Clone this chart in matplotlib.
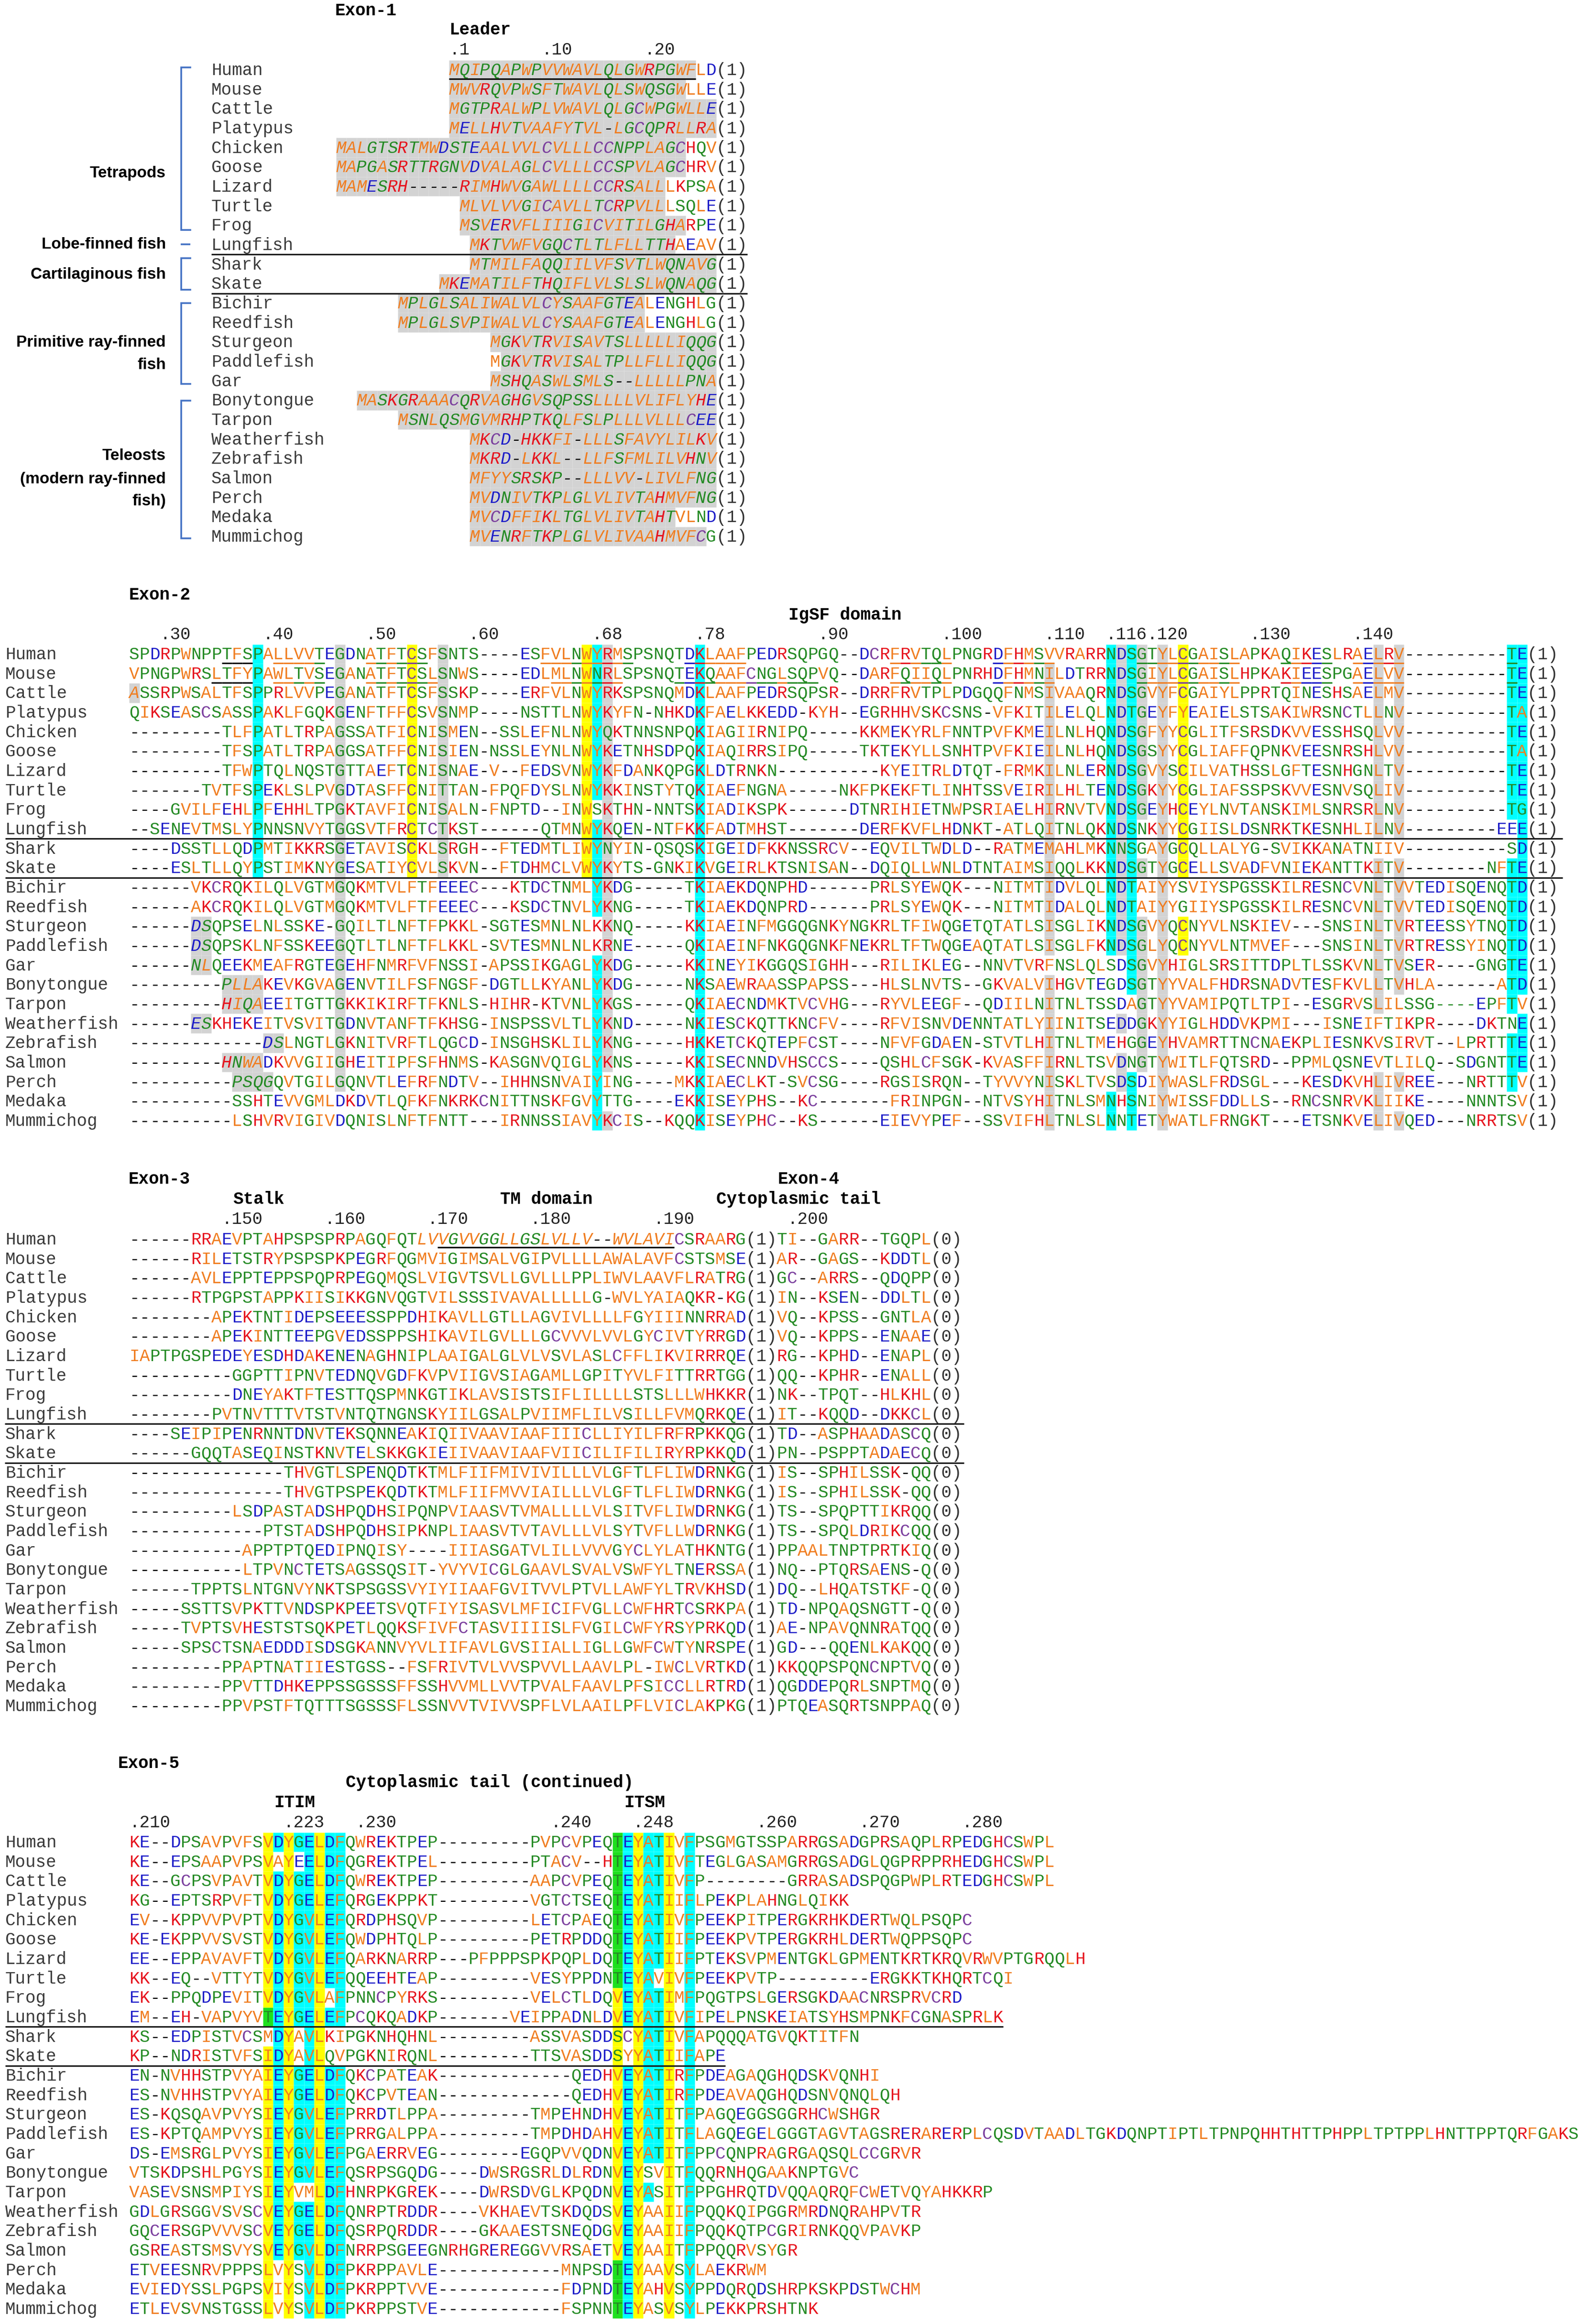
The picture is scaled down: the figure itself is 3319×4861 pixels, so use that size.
import matplotlib
matplotlib.use('Agg')
import matplotlib.pyplot as plt
from matplotlib.patches import Rectangle
from matplotlib.collections import PatchCollection

W, H = 3319, 4861
CW = 21.5          # width of one alignment column (px)
RH = 40.67         # row height (px)
FS = 25.8          # sequence font size (pt)
BASE = 11          # baseline offset from row centre
MONO = ['Liberation Mono', 'DejaVu Sans Mono']
NARROW = ['Liberation Sans Narrow', 'Liberation Sans', 'DejaVu Sans']

species = ['Human', 'Mouse', 'Cattle', 'Platypus', 'Chicken', 'Goose', 'Lizard',
           'Turtle', 'Frog', 'Lungfish', 'Shark', 'Skate', 'Bichir', 'Reedfish',
           'Sturgeon', 'Paddlefish', 'Gar', 'Bonytongue', 'Tarpon', 'Weatherfish',
           'Zebrafish', 'Salmon', 'Perch', 'Medaka', 'Mummichog']

# ---- Exon-1 (leader), right aligned
exon1 = ["MQIPQAPWPVVWAVLQLGWRPGWFLD", "MWVRQVPWSFTWAVLQLSWQSGWLLE",
         "MGTPRALWPLVWAVLQLGCWPGWLLE", "MELLHVTVAAFYTVL-LGCQPRLLRA",
         "MALGTSRTMWDSTEAALVVLCVLLLCCNPPLAGCHQV", "MAPGASRTTRGNVDVALAGLCVLLLCCSPVLAGCHRV",
         "MAMESRH-----RIMHWVGAWLLLLCCRSALLLKPSA", "MLVLVVGICAVLLTCRPVLLLSQLE",
         "MSVERVFLIIIGICVITILGHARPE", "MKTVWFVGQCTLTLFLLTTHAEAV",
         "MTMILFAQQIILVFSVTLWQNAVG", "MKEMATILFTHQIFLVLSLSLWQNAQG",
         "MPLGLSALIWALVLCYSAAFGTEALENGHLG", "MPLGLSVPIWALVLCYSAAFGTEALENGHLG",
         "MGKVTRVISAVTSLLLLLIQQG", "MGKVTRVISALTPLLFLLIQQG", "MSHQASWLSMLS--LLLLLPNA",
         "MASKGRAAACQRVAGHGVSQPSSLLLLVLIFLYHE", "MSNLQSMGVMRHPTKQLFSLPLLLVLLLCEE",
         "MKCD-HKKFI-LLLSFAVYLILKV", "MKRD-LKKL--LLFSFMLILVHNV", "MFYYSRSKP--LLLVV-LIVLFNG",
         "MVDNIVTKPLGLVLIVTAHMVFNG", "MVCDFFIKLTGLVLIVTAHTVLND", "MVENRFTKPLGLVLIVAAHMVFCG"]
exon1_plain_tail = [2, 3, 0, 0, 3, 3, 5, 5, 3, 4, 0, 0, 7, 7, 0, 0, 0, 0, 0, 0, 0, 0, 0, 4, 1]
exon1_ruler = [('.1', 11), ('.10', 20), ('.20', 30)]

# ---- Exon-2 (IgSF domain)
exon2 = [
    "SPDRPWNPPTFSPALLVVTEGDNATFTCSFSNTS----ESFVLNWYRMSPSNQTDKLAAFPEDRSQPGQ--DCRFRVTQLPNGRDFHMSVVRARRNDSGTYLCGAISLAPKAQIKESLRAELRV----------TE",
    "VPNGPWRSLTFYPAWLTVSEGANATFTCSLSNWS----EDLMLNWNRLSPSNQTEKQAAFCNGLSQPVQ--DARFQIIQLPNRHDFHMNILDTRRNDSGIYLCGAISLHPKAKIEESPGAELVV----------TE",
    "ASSRPWSALTFSPPRLVVPEGANATFTCSFSSKP----ERFVLNWYRKSPSNQMDKLAAFPEDRSQPSR--DRRFRVTPLPDGQQFNMSIVAAQRNDSGVYFCGAIYLPPRTQINESHSAELMV----------TE",
    "QIKSEASCSASSPAKLFGQKGENFTFFCSVSNMP----NSTTLNWYKYFN-NHKDKFAELKKEDD-KYH--EGRHHVSKCSNS-VFKITILELQLNDTGEYFYEAIELSTSAKIWRSNCTLLNV----------TA",
    "---------TLFPATLTRPAGSSATFICNISMEN--SSLEFNLNWYQKTNNSNPQKIAGIIRNIPQ-----KKMEKYRLFNNTPVFKMEILNLHQNDSGFYYCGLITFSRSDKVVESSHSQLVV----------TE",
    "---------TFSPATLTRPAGGSATFFCNISIEN-NSSLEYNLNWYKETNHSDPQKIAQIRRSIPQ-----TKTEKYLLSNHTPVFKIEILNLHQNDSGSYYCGLIAFFQPNKVEESNRSHLVV----------TA",
    "---------TFWPTQLNQSTGTTAEFTCNISNAE-V--FEDSVNWYKFDANKQPGKLDTRNKN----------KYEITRLDTQT-FRMKILNLERNDSGVYSCILVATHSSLGFTESNHGNLTV----------TE",
    "-------TVTFSPEKLSLPVGDTASFFCNITTAN-FPQFDYSLNWYKKINSTYTQKIAEFNGNA-----NKFPKEKFTLINHTSSVEIRILHLTENDSGKYYCGLIAFSSPSKVVESNVSQLIV----------TE",
    "----GVILFEHLPFEHHLTPGKTAVFICNISALN-FNPTD--INWSKTHN-NNTSKIADIKSPK------DTNRIHIETNWPSRIAELHIRNVTVNDSGEYHCEYLNVTANSKIMLSNRSRLNV----------TG",
    "--SENEVTMSLYPNNSNVYTGGSVTFRCTCTKST------QTMNWYKQEN-NTFKKFADTMHST-------DERFKVFLHDNKT-ATLQITNLQKNDSNKYYCGIISLDSNRKTKESNHLILNV---------EEE",
    "----DSSTLLQDPMTIKKRSGETAVISCKLSRGH--FTEDMTLIWYNYIN-QSQSKIGEIDFKKNSSRCV--EQVILTWDLD--RATMEMAHLMKNNSGAYGCQLLALYG-SVIKKANATNIIV----------SD",
    "----ESLTLLQYPSTIMKNYGESATIYCVLSKVN--FTDHMCLVWYKYTS-GNKIKVGEIRLKTSNISAN--DQIQLLWNLDTNTAIMSIQQLKKNDSGTYGCELLSVADFVNIEKANTTKITV--------NFTE",
    "------VKCRQKILQLVGTMGQKMTVLFTFEEEC---KTDCTNMLYKDG-----TKIAEKDQNPHD------PRLSYEWQK---NITMTIDVLQLNDTAIYYSVIYSPGSSKILRESNCVNLTVVTEDISQENQTD",
    "------AKCRQKILQLVGTMGQKMTVLFTFEEEC---KSDCTNVLYKNG-----TKIAEKDQNPRD------PRLSYEWQK---NITMTIDALQLNDTAIYYGIIYSPGSSKILRESNCVNLTVVTEDISQENQTD",
    "------DSQPSELNLSSKE-GQILTLNFTFPKKL-SGTESMNLNLKKNQ-----KKIAEINFMGGQGNKYNGKRLTFIWQGETQTATLSISGLIKNDSGVYQCNYVLNSKIEV---SNSINLTVRTEESSYTNQTD",
    "------DSQPSKLNFSSKEEGQTLTLNFTFLKKL-SVTESMNLNLKRNE-----QKIAEINFNKGQGNKFNEKRLTFTWQGEAQTATLSISGLFKNDSGLYQCNYVLNTMVEF---SNSINLTVRTRESSYINQTD",
    "------NLQEEKMEAFRGTEGEHFNMRFVFNSSI-APSSIKGAGLYKDG-----KKINEYIKGGQSIGHH---RILIKLEG--NNVTVRFNSLQLSDSGVYHIGLSRSITTDPLTLSSKVNLTVSER----GNGTE",
    "---------PLLAKEVKGVAGENVTILFSFNGSF-DGTLLKYANLYKDG-----NKSAEWRAASSPAPSS---HLSLNVTS--GKVALVIHGVTEGDSGTYYVALFHDRSNADVTESFKVLLTVHLA------ATD",
    "---------HIQAEEITGTTGKKIKIRFTFKNLS-HIHR-KTVNLYKGS-----QKIAECNDMKTVCVHG---RYVLEEGF--QDIILNITNLTSSDAGTYYVAMIPQTLTPI--ESGRVSLILSSG----EPFTV",
    "------ESKHEKEITVSVITGDNVTANFTFKHSG-INSPSSVLTLYKND-----NKIESCKQTTKNCFV----RFVISNVDENNTATLYIINITSEDDGKYYIGLHDDVKPMI---ISNEIFTIKPR----DKTNE",
    "-------------DSLNGTLGKNITVRFTLQGCD-INSGHSKLILYKNG-----HKKETCKQTEPFCST----NFVFGDAEN-STVTLHITNLTMEHGGEYHVAMRTTNCNAEKPLIESNKVSIRVT--LPRTTTE",
    "---------HNWADKVVGIIGHEITIPFSFHNMS-KASGNVQIGLYKNS-----KKISECNNDVHSCCS----QSHLCFSGK-KVASFFIRNLTSVDNGTYWITLFQTSRD--PPMLQSNEVTLILQ--SDGNTTE",
    "----------PSQGQVTGILGQNVTLEFRFNDTV--IHHNSNVAIYING----MKKIAECLKT-SVCSG----RGSISRQN--TYVVYNISKLTVSDSDIYWASLFRDSGL---KESDKVHLIVREE---NRTTTV",
    "----------SSHTEVVGMLDKDVTLQFKFNKRKCNITTNSKFGVYTTG----EKKISEYPHS--KC-------FRINPGN--NTVSYHITNLSMNHSNIYWISSFDDLLS--RNCSNRVKLIIKE----NNNTSV",
    "----------LSHVRVIGIVDQNISLNFTFNTT---IRNNSSIAVYKCIS--KQQKISEYPHC--KS------EIEVYPEF--SSVIFHLTNLSLNNTETYWATLFRNGKT---ETSNKVELIVQED---NRRTSV",
]
exon2_ruler = [('.30', 3), ('.40', 13), ('.50', 23), ('.60', 33), ('.68', 45), ('.78', 55),
               ('.90', 67), ('.100', 79), ('.110', 89), ('.116', 95), ('.120', 99),
               ('.130', 109), ('.140', 119)]

# ---- Exon-3 (stalk + TM) and Exon-4
exon3 = ["------RRAEVPTAHPSPSPRPAGQFQTLVVGVVGGLLGSLVLLV--WVLAVICSRAARG",
         "------RILETSTRYPSPSPKPEGRFQGMVIGIMSALVGIPVLLLLAWALAVFCSTSMSE",
         "------AVLEPPTEPPSPQPRPEGQMQSLVIGVTSVLLGVLLLPPLIWVLAAVFLRATRG",
         "------RTPGPSTAPPKIISIKKGNVQGTVILSSSIVAVALLLLLG-WVLYAIAQKR-KG",
         "--------APEKTNTIDEPSEEESSPPDHIKAVLLGTLLAGVIVLLLLFGYIIINNRRAD",
         "--------APEKINTTEEPGVEDSSPPSHIKAVILGVLLLGCVVVLVVLGYCIVTYRRGD",
         "IAPTPGSPEDEYESDHDAKENENAGHNIPLAAIGALGLVLVSVLASLCFFLIKVIRRRQE",
         "----------GGPTTIPNVTEDNQVGDFKVPVIIGVSIAGAMLLGPITYVLFITTRRTGG",
         "----------DNEYAKTFTESTTQSPMNKGTIKLAVSISTSIFLILLLLSTSLLLWHKKR",
         "--------PVTNVTTTVTSTVNTQTNGNSKYIILGSALPVIIMFLILVSILLFVMQRKQE",
         "----SEIPIPENRNNTDNVTEKSQNNEAKIQIIVAAVIAAFIIICLLIYILFRFRPKKQG",
         "------GQQTASEQINSTKNVTELSKKGKIEIIVAAVIAAFVIICILIFILIRYRPKKQD",
         "---------------THVGTLSPENQDTKTMLFIIFMIVIVILLLVLGFTLFLIWDRNKG",
         "---------------THVGTPSPEKQDTKTMLFIIFMVVIAILLLVLGFTLFLIWDRNKG",
         "----------LSDPASTADSHPQDHSIPQNPVIAASVTVMALLLLVLSITVFLIWDRNKG",
         "-------------PTSTADSHPQDHSIPKNPLIAASVTVTAVLLLVLSYTVFLLWDRNKG",
         "-----------APPTPTQEDIPNQISY----IIIASGATVLILLVVVGYCLYLATHKNTG",
         "-----------LTPVNCTETSAGSSQSIT-YVYVICGLGAAVLSVALVSWFYLTNERSSA",
         "------TPPTSLNTGNVYNKTSPSGSSVYIYIIAAFGVITVVLPTVLLAWFYLTRVKHSD",
         "-----SSTTSVPKTTVNDSPKPEETSVQTFIYISASVLMFICIFVGLLCWFHRTCSRKPA",
         "-----TVPTSVHESTSTSQKPETLQQKSFIVFCTASVIIIISLFVGILCWFYRSYPRKQD",
         "-----SPSCTSNAEDDDISDSGKANNVYVLIIFAVLGVSIIALLIGLLGWFCWTYNRSPE",
         "---------PPAPTNATIIESTGSS--FSFRIVTVLVVSPVVLLAAVLPL-IWCLVRTKD",
         "---------PPVTTDHKEPPSSGSSSFFSSHVVMLLVVTPVALFAAVLPFSICCLLRTRD",
         "---------PPVPSTFTQTTTSGSSSFLSSNVVTVIVVSPFLVLAAILPFLVICLAKPKG"]
exon4 = ["TI--GARR--TGQPL", "AR--GAGS--KDDTL", "GC--ARRS--QDQPP", "IN--KSEN--DDLTL",
         "VQ--KPSS--GNTLA", "VQ--KPPS--ENAAE", "RG--KPHD--ENAPL", "QQ--KPHR--ENALL",
         "NK--TPQT--HLKHL", "IT--KQQD--DKKCL", "TD--ASPHAADASCQ", "PN--PSPPTADAECQ",
         "IS--SPHILSSK-QQ", "IS--SPHILSSK-QQ", "TS--SPQPTTIKRQQ", "TS--SPQLDRIKCQQ",
         "PPAALTNPTPRTKIQ", "NQ--PTQRSAENS-Q", "DQ--LHQATSTKF-Q", "TD-NPQAQSNGTT-Q",
         "AE-NPAVQNNRATQQ", "GD---QQENLKAKQQ", "KKQQPSPQNCNPTVQ", "QGDDEPQRLSNPTMQ",
         "PTQEASQRTSNPPAQ"]
exon3_ruler = [('.150', 9), ('.160', 19), ('.170', 29), ('.180', 39), ('.190', 51), ('.200', 64)]

# ---- Exon-5 (cytoplasmic tail)
exon5 = ["KE--DPSAVPVFSVDYGELDFQWREKTPEP---------PVPCVPEQTEYATIVFPSGMGTSSPARRGSADGPRSAQPLRPEDGHCSWPL",
         "KE--EPSAAPVPSVAYEELDFQGREKTPEL---------PTACV--HTEYATIVFTEGLGASAMGRRGSADGLQGPRPPRHEDGHCSWPL",
         "KE--GCPSVPAVTVDYGELDFQWREKTPEP---------AAPCVPEQTEYATIVFP--------GRRASADSPQGPWPLRTEDGHCSWPL",
         "KG--EPTSRPVFTVDYGELEFQRGEKPPKT---------VGTCTSEQTEYATIIFLPEKPLAHNGLQIKK",
         "EV--KPPVVPVPTVDYGVLEFQRDPHSQVP---------LETCPAEQTEYATIVFPEEKPITPERGKRHKDERTWQLPSQPC",
         "KE-EKPPVVSVSTVDYGVLEFQWDPHTQLP---------PETRPDDQTEYATIIFPEEKPVTPERGKRHLDERTWQPPSQPC",
         "EE--EPPAVAVFTVDYGVLEFQARKNARRP---PFPPPSPKPQPLDQTEYATIIFPTEKSVPMENTGKLGPMENTKRTKRQVRWVPTGRQQLH",
         "KK--EQ--VTTYTVDYGVLEFQQEEHTEAP---------VESYPPDNTEYAVIVFPEEKPVTP---------ERGKKTKHQRTCQI",
         "EK--PPQDPEVITVDYGVLAFPNNCPYRKS---------VELCTLDQVEYATIMFPQGTPSLGERSGKDAACNRSPRVCRD",
         "EM--EH-VAPVYVTEYGELEFPCQKQADKP-------VEIPPADNLDVEYATIVFIPELPNSKEIATSYHSMPNKFCGNASPRLK",
         "KS--EDPISTVCSMDYAVLKIPGKNHQHNL---------ASSVASDDSCYATIVFAPQQQATGVQKTITFN",
         "KP--NDRISTVFSIDYAVLQVPGKNIRQNL---------TTSVASDDSYYATIIFAPE",
         "EN-NVHHSTPVYAIEYGELDFQKCPATEAK-------------QEDHVEYATIRFPDEAGAQGHQDSKVQNHI",
         "ES-NVHHSTPVYAIEYGELDFQKCPVTEAN-------------QEDHVEYATIRFPDEAVAQGHQDSNVQNQLQH",
         "ES-KQSQAVPVYSIEYGVLEFPRRDTLPPA---------TMPEHNDHVEYATITFPAGQEGGSGGRHCWSHGR",
         "ES-KPTQAMPVYSIEYGVLEFPRRGALPPA---------TMPDHDAHVEYATITFLAGQEGELGGGTAGVTAGSRERARERPLCQSDVTAADLTGKDQNPTIPTLTPNPQHHTHTTPHPPLTPTPPLHNTTPPTQRFGAKS",
         "DS-EMSRGLPVYSIEYGVLEFPGAERRVEG--------EGQPVVQDNVEYATITFPPCQNPRAGRGAQSQLCCGRVR",
         "VTSKDPSHLPGYSIEYGVLEFQSRPSGQDG----DWSRGSRLDLRDNVEYSVITFQQRNHQGAAKNPTGVC",
         "VASEVSNSMPIYSIEYVMLDFHNRPKGREK----DWRSDVGLKPQDNVEYASITFPPGHRQTDVQQAQRQFCWETVQYAHKKRP",
         "GDLGRSGGVSVSCVEYGELDFQNRPTRDDR----VKHAEVTSKDQDSVEYAAIIFPQQKQIPGGRMRDNQRAHPVTR",
         "GQCERSGPVVVSCVEYGELDFQSRPQRDDR----GKAAESTSNEQDGVEYAAIIFPQQKQTPCGRIRNKQQVPAVKP",
         "GSREASTSMSVYSVEYGVLDFNRRPSGEEGNRHGREREGGVVRSAETVEYAAITFPPQQRVSYGR",
         "ETVEESNRVPPPSLVYSVLDFPKRPPAVLE------------MNPSDTEYAAVSYLAEKRWM",
         "EVIEDYSSLPGPSVIYSVLDFPKRPPTVVE------------FDPNDTEYAHVSYPPDQRQDSHRPKSKPDSTWCHM",
         "ETLEVSVNSTGSSLVYSVLDFPKRPPSTVE------------FSPNNTEYASVSYLPEKKPRSHTNK"]
exon5_ruler = [('.210', 0), ('.223', 15), ('.230', 22), ('.240', 41), ('.248', 49),
               ('.260', 61), ('.270', 71), ('.280', 81)]

ORANGE, GREEN, RED, BLUE, PURPLE = '#F07D20', '#248A24', '#E6141E', '#1C1CC8', '#7B3F9E'
HL = {'cyan': '#00FFFF', 'yellow': '#FFFF00', 'gray': '#D3D3D3', 'green': '#1EE01E'}

# conserved-site shading: (column, colour, rows)
exon2_marks = [(12, 'cyan', '0-11'), (20, 'gray', '0-22'), (27, 'yellow', '0-11'),
               (30, 'gray', '0-11'), (44, 'yellow', '0-11'), (45, 'cyan', '0-7,9-13,16-24'),
               (46, 'gray', '0-21,24'), (55, 'cyan', '0-24'), (89, 'gray', '1-15,17-24'),
               (95, 'cyan', '0-15,23-24'), (96, 'gray', '0-15,19,21,22'),
               (97, 'cyan', '0-17,22-24'), (98, 'gray', '0-8,11,14-21'), (100, 'gray', '0-24'),
               (102, 'yellow', '0-11,14-15'), (121, 'gray', '0-9,11-18,22-24'),
               (123, 'gray', '0-9,11-17,22,24'), (134, 'cyan', '0-8,11-18,20-22'),
               (135, 'cyan', '0-17,19-21')]
# signal-peptide remnants at start of exon-2: (row, first col, last col)
exon2_lead = [(2, 0, 0), (14, 6, 7), (15, 6, 7), (16, 6, 7), (19, 6, 7), (17, 9, 12),
              (18, 9, 12), (20, 13, 14), (21, 9, 12), (22, 10, 13)]
# gap runs drawn in colour rather than black: (row, first col, last col)
exon2_green_gaps = [(18, 127, 130)]
# secondary-structure underlines for human / mouse: (row, first col, last col, black?)
exon2_under = [(0, 9, 11, True), (0, 14, 18, False), (0, 23, 28, False), (0, 40, 48, False),
               (0, 54, 59, False), (0, 74, 79, False), (0, 84, 89, False), (0, 98, 107, False),
               (0, 112, 116, False), (0, 119, 123, False), (0, 134, 134, False),
               (1, 8, 11, True), (1, 14, 18, False), (1, 23, 29, False), (1, 41, 47, False),
               (1, 53, 66, False), (1, 74, 79, False), (1, 84, 89, False), (1, 98, 107, False),
               (1, 112, 116, False), (1, 119, 123, False), (1, 134, 134, False)]
exon5_marks = [(13, 'yellow', '0-8,11-24'), (13, 'green', '9'), (14, 'cyan', '0,2-21'),
               (15, 'yellow', '0-24'), (16, 'cyan', '0,2-9,12-17,19-21'),
               (17, 'cyan', '0-17,19-24'), (18, 'yellow', '0-24'), (19, 'cyan', '0-7,9,12-24'),
               (20, 'cyan', '0-9,12-24'), (47, 'green', '0-7,22-24'), (47, 'yellow', '8-21'),
               (48, 'cyan', '0-9,12-24'), (49, 'yellow', '0-24'), (50, 'cyan', '0-16,18'),
               (51, 'cyan', '0-6,8-16'), (52, 'yellow', '0-24'), (54, 'cyan', '0-24')]

groups = [(['Tetrapods'], [362], 141, 481), (['Lobe-finned fish'], [511], 511, 511),
          (['Cartilaginous fish'], [575], 540, 606),
          (['Primitive ray-finned', 'fish'], [717, 764], 634, 803),
          (['Teleosts', '(modern ray-finned', 'fish)'], [954, 1002, 1048], 838, 1126)]


def aa_color(c):
    if c in 'AVLIMFWY':
        return ORANGE
    if c in 'STNQGP':
        return GREEN
    if c in 'KRH':
        return RED
    if c in 'DE':
        return BLUE
    if c == 'C':
        return PURPLE
    return 'black'


def parse_rows(s):
    out = []
    for part in s.split(','):
        if '-' in part:
            a, b = part.split('-')
            out += list(range(int(a), int(b) + 1))
        else:
            out.append(int(part))
    return out


fig = plt.figure(figsize=(W / 100, H / 100), dpi=100)
ax = fig.add_axes([0, 0, 1, 1])
ax.set_xlim(0, W)
ax.set_ylim(H, 0)
ax.axis('off')

rects = []


def cell(x0, y0, col, row, color):
    rects.append(Rectangle((x0 + col * CW, y0 + row * RH - RH / 2), CW, RH,
                           facecolor=color, edgecolor='none'))


def put_seq(x0, y, col0, seq, italic=(), recolor=None):
    recolor = recolor or {}
    for i, c in enumerate(seq):
        col = col0 + i
        ax.text(x0 + (col + 0.5) * CW, y + BASE, c, color=recolor.get(col, aa_color(c)),
                family=MONO, fontsize=FS, ha='center', va='baseline',
                style='italic' if col in italic else 'normal')


def put_plain(x, y, s, color='#3a3a3a', bold=False, family=MONO, size=FS, ha='left'):
    ax.text(x, y, s, color=color, family=family, fontsize=size, ha=ha, va='baseline',
            fontweight='bold' if bold else 'normal')


def header(x, y, s):
    ax.text(x, y, s, color='black', family=MONO, fontsize=FS, fontweight='bold',
            ha='left', va='center')


def hline(x1, x2, y, color='#1a1a1a', lw=2.3):
    ax.plot([x1, x2], [y, y], color=color, lw=lw, solid_capstyle='butt', zorder=2)


# ================= Exon-1 =================
X1, Y1, N1 = 702.5, 146, 37
header(701, 22, 'Exon-1')
header(939, 63, 'Leader')
for lab, col in exon1_ruler:
    put_plain(X1 + col * CW, 103 + BASE, lab, color='#222222')
for r, seq in enumerate(exon1):
    y = Y1 + r * RH
    c0 = N1 - len(seq)
    g0 = c0 + (1 if species[r] == 'Paddlefish' else 0)
    g1 = N1 - exon1_plain_tail[r]
    for col in range(g0, g1):
        cell(X1, Y1, col, r, HL['gray'])
    put_plain(442, y + BASE, species[r])
    put_seq(X1, y, c0, seq, italic=set(range(g0, g1)))
    put_plain(X1 + N1 * CW, y + BASE, '(1)', color='#333333')
hline(X1 + 11 * CW, X1 + (N1 - 2) * CW, Y1 + 19, color='black')
for r in (9, 11):
    hline(442, 1563, Y1 + r * RH + RH / 2)
for labels, ys, top, bot in groups:
    for lab, ly in zip(labels, ys):
        ax.text(347, ly, lab, family=NARROW, fontsize=24, fontweight='bold', ha='right',
                va='center', color='black')
    if top == bot:
        ax.plot([378, 398], [top, top], color='#4472C4', lw=2.6, solid_capstyle='butt')
    else:
        ax.plot([398, 379, 379, 398], [top, top, bot, bot], color='#4472C4', lw=2.6,
                solid_joinstyle='miter')

# ================= Exon-2 =================
X2, Y2 = 270, 1368
header(270, 1244, 'Exon-2')
header(1649, 1286, 'IgSF domain')
for lab, col in exon2_ruler:
    put_plain(X2 + col * CW, 1326 + BASE, lab, color='#222222')
for col, cname, rows in exon2_marks:
    for r in parse_rows(rows):
        if exon2[r][col] != '-':
            cell(X2, Y2, col, r, HL[cname])
lead_italic = {r: set() for r in range(len(species))}
for r, a, b in exon2_lead:
    for col in range(a, b + 1):
        cell(X2, Y2, col, r, HL['gray'])
        lead_italic[r].add(col)
gap_colour = {r: {} for r in range(len(species))}
for r, a, b in exon2_green_gaps:
    for col in range(a, b + 1):
        gap_colour[r][col] = GREEN
for r, seq in enumerate(exon2):
    y = Y2 + r * RH
    put_plain(11, y + BASE, species[r])
    put_seq(X2, y, 0, seq, italic=lead_italic[r], recolor=gap_colour[r])
    put_plain(X2 + len(seq) * CW, y + BASE, '(1)', color='#333333')
for r, a, b, black in exon2_under:
    yy = Y2 + r * RH + 19
    for col in range(a, b + 1):
        color = 'black' if black else aa_color(exon2[r][col])
        hline(X2 + col * CW, X2 + (col + 1) * CW, yy, color=color, lw=2.2)
for r in (9, 11):
    hline(11, 3268, Y2 + r * RH + RH / 2)

# ================= Exon-3 / Exon-4 =================
X3, Y3 = 270, 2592
header(269, 2467, 'Exon-3')
header(1627, 2467, 'Exon-4')
header(487, 2508, 'Stalk')
header(1046, 2508, 'TM domain')
header(1498, 2508, 'Cytoplasmic tail')
for lab, col in exon3_ruler:
    put_plain(X3 + col * CW, 2549 + BASE, lab, color='#222222')
for r in range(len(species)):
    y = Y3 + r * RH
    put_plain(11, y + BASE, species[r])
    put_seq(X3, y, 0, exon3[r], italic=set(range(28, 53)) if r == 0 else ())
    put_plain(X3 + 60 * CW, y + BASE, '(1)', color='#333333')
    put_seq(X3, y, 63, exon4[r])
    put_plain(X3 + 78 * CW, y + BASE, '(0)', color='#333333')
hline(X3 + 30 * CW, X3 + 53 * CW, Y3 + 17, color='black')
for r in (9, 11):
    hline(10, 2016, Y3 + r * RH + RH / 2)

# ================= Exon-5 =================
X5, Y5 = 270, 3853
header(247, 3689, 'Exon-5')
header(723, 3729, 'Cytoplasmic tail (continued)')
header(573, 3770, 'ITIM')
header(1305, 3770, 'ITSM')
for lab, col in exon5_ruler:
    put_plain(X5 + col * CW, 3811 + BASE, lab, color='#222222')
for col, cname, rows in exon5_marks:
    for r in parse_rows(rows):
        if col < len(exon5[r]) and exon5[r][col] != '-':
            cell(X5, Y5, col, r, HL[cname])
for r, seq in enumerate(exon5):
    y = Y5 + r * RH
    put_plain(11, y + BASE, species[r])
    put_seq(X5, y, 0, seq)
for r in (9, 11):
    hline(11, X5 + len(exon5[r]) * CW, Y5 + r * RH + RH / 2)

ax.add_collection(PatchCollection(rects, match_original=True, zorder=0))

fig.savefig('out.png', dpi=100, facecolor='white')
